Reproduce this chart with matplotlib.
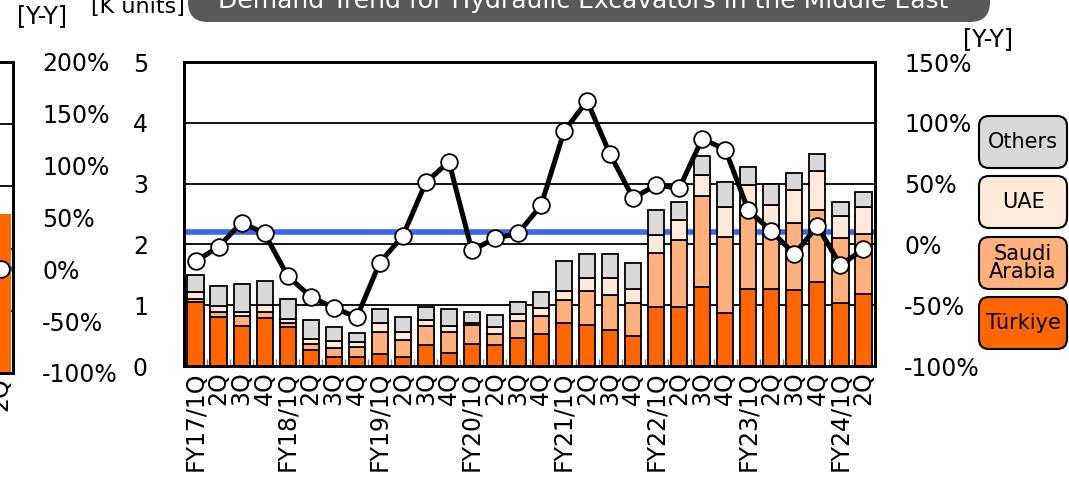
"""
Demand trend for hydraulic excavators in the Middle East (stacked bars + Y-Y line)
"""

import matplotlib
matplotlib.use("Agg")
import matplotlib.pyplot as plt
import matplotlib.ticker as mticker
import matplotlib.transforms as mtransforms
from matplotlib.patches import FancyBboxPatch
import numpy as np

plt.rcParams["font.family"] = "DejaVu Sans"

# ── Data ─────────────────────────────────────────────
QUARTERS = ["FY17/1Q", "2Q", "3Q", "4Q",
            "FY18/1Q", "2Q", "3Q", "4Q",
            "FY19/1Q", "2Q", "3Q", "4Q",
            "FY20/1Q", "2Q", "3Q", "4Q",
            "FY21/1Q", "2Q", "3Q", "4Q",
            "FY22/1Q", "2Q", "3Q", "4Q",
            "FY23/1Q", "2Q", "3Q", "4Q",
            "FY24/1Q", "2Q"]

# K units
TURKIYE = [1.05, 0.81, 0.66, 0.79, 0.64, 0.26, 0.15, 0.15, 0.20, 0.14,
           0.34, 0.21, 0.37, 0.34, 0.46, 0.52, 0.71, 0.67, 0.60, 0.50,
           0.97, 0.97, 1.30, 0.87, 1.26, 1.26, 1.25, 1.38, 1.04, 1.19]
SAUDI = [0.05, 0.08, 0.16, 0.09, 0.07, 0.11, 0.15, 0.16, 0.36, 0.29,
         0.32, 0.35, 0.30, 0.18, 0.28, 0.30, 0.37, 0.56, 0.56, 0.54,
         0.89, 1.11, 1.49, 1.25, 1.22, 0.94, 1.10, 1.19, 1.07, 0.98]
UAE = [0.11, 0.09, 0.07, 0.13, 0.07, 0.08, 0.11, 0.09, 0.14, 0.13,
       0.09, 0.10, 0.04, 0.12, 0.12, 0.14, 0.16, 0.22, 0.29, 0.22,
       0.30, 0.32, 0.35, 0.50, 0.49, 0.45, 0.54, 0.63, 0.35, 0.44]
OTHERS = [0.28, 0.34, 0.46, 0.38, 0.32, 0.30, 0.23, 0.15, 0.23, 0.25,
          0.22, 0.27, 0.18, 0.20, 0.19, 0.26, 0.49, 0.40, 0.39, 0.43,
          0.41, 0.29, 0.32, 0.40, 0.30, 0.35, 0.29, 0.29, 0.24, 0.25]

# Y-Y change (%)
YOY = [-14, -2, 18, 9, -26, -43, -52, -60, -15, 7,
       51, 68, -5, 5, 9, 32, 93, 118, 74, 38,
       49, 46, 87, 78, 28, 11, -8, 15, -17, -4]
REF_LINE = 10   # blue reference line (%)

SERIES = ["Türkiye", "Saudi\nArabia", "UAE", "Others"]
COLORS = ["#FF6600", "#FFB07C", "#FDEADA", "#D9D9D9"]
BLUE = "#3A66F0"

# fragment of the neighbouring chart on the far left
PREV_LABEL = ["2Q"]
PREV_VALUE = [2.56]
PREV_YOY = [0]
PREV_REF = 0

W, H = 1069, 486
fig = plt.figure(figsize=(W / 100, H / 100), dpi=100)
fig.patch.set_facecolor("white")

# ── Main chart ───────────────────────────────────────
ax = fig.add_axes([184 / W, 120 / H, 691 / W, 304 / H])
x = np.arange(len(QUARTERS))

for yv in [1, 2, 3, 4]:
    ax.axhline(yv, color="black", lw=1.3, zorder=0)

ax2 = ax.twinx()
blend = mtransforms.blended_transform_factory(ax.transAxes, ax2.transData)
ax.plot([0.003, 1], [REF_LINE, REF_LINE], color=BLUE, lw=4, transform=blend,
        zorder=1, scalex=False, scaley=False)

bottom = np.zeros(len(QUARTERS))
for vals, col in zip([TURKIYE, SAUDI, UAE, OTHERS], COLORS):
    ax.bar(x, vals, width=0.7, bottom=bottom, color=col, edgecolor="black",
           linewidth=1.3, zorder=2)
    bottom += np.array(vals)

ax.set_xlim(-0.5, len(QUARTERS) - 0.5)
ax.set_ylim(0, 5)
ax.set_yticks([0, 1, 2, 3, 4, 5])
ax.tick_params(axis="y", length=0, pad=26, labelsize=17)
ax.set_xticks(x)
ax.set_xticklabels(QUARTERS, rotation=90, fontsize=17)
ax.tick_params(axis="x", length=0, pad=4)
ax.set_xticks(x[:-1] + 0.5, minor=True)
ax.tick_params(axis="x", which="minor", direction="in", length=5,
               color="#7F7F7F", width=1)
for sp in ax.spines.values():
    sp.set_linewidth(2)

ax2.plot(x, YOY, color="black", lw=3.6, marker="o", markersize=12,
         markerfacecolor="white", markeredgecolor="black",
         markeredgewidth=1.3, zorder=3)
ax2.set_ylim(-100, 150)
ax2.set_yticks(np.arange(-100, 151, 50))
ax2.yaxis.set_major_formatter(mticker.FormatStrFormatter("%d%%"))
ax2.tick_params(axis="y", length=0, pad=21, labelsize=17)
for sp in ax2.spines.values():
    sp.set_linewidth(2)

# ── Neighbouring chart fragment ──────────────────────
axl = fig.add_axes([-34 / W, 113 / H, 47 / W, 311 / H])
for yv in [1, 2, 3, 4]:
    axl.axhline(yv, color="black", lw=1.3, zorder=0)
axl.bar([0], PREV_VALUE, width=0.91, color=COLORS[0], zorder=2)
axl.set_xlim(-1.5, 0.543)
axl.set_ylim(0, 5)
axl.set_yticks([])
axl.set_xticks([0])
axl.set_xticklabels(PREV_LABEL, rotation=90, fontsize=17)
axl.tick_params(axis="x", length=0, pad=3)
axl.spines["left"].set_visible(False)
for sp in axl.spines.values():
    sp.set_linewidth(2)
axl2 = axl.twinx()
axl2.axhline(PREV_REF, color=BLUE, lw=4, zorder=1)
axl2.plot([0], PREV_YOY, marker="o", markersize=12, color="black",
          markerfacecolor="white", markeredgewidth=1.3, zorder=3)
axl2.set_ylim(-100, 200)
axl2.set_yticks(np.arange(-100, 201, 50))
axl2.yaxis.set_major_formatter(mticker.FormatStrFormatter("%d%%"))
axl2.tick_params(axis="y", length=0, pad=21, labelsize=17)
axl2.spines["left"].set_visible(False)
for sp in axl2.spines.values():
    sp.set_linewidth(2)

# ── Title banner and unit labels ─────────────────────
inch = fig.dpi_scale_trans
fig.add_artist(FancyBboxPatch((1.88, 4.64), 8.02, 0.6,
                              boxstyle="round,pad=0,rounding_size=0.2",
                              transform=inch, facecolor="#595959",
                              edgecolor="none"))
fig.text(583 / W, 1 - 8 / H,
         "Demand Trend for Hydraulic Excavators in the Middle East",
         color="white", fontsize=18, ha="center", va="baseline")
fig.text(138 / W, 1 - 7 / H, "[K units]", fontsize=16, ha="center", va="center")
fig.text(42 / W, 1 - 16 / H, "[Y-Y]", fontsize=17, ha="center", va="center")
fig.text(988 / W, 1 - 39 / H, "[Y-Y]", fontsize=17, ha="center", va="center")

# ── Legend boxes ─────────────────────────────────────
box_tops = [349, 289, 228, 168]   # px from top, bottom edge of each box
for name, col, b in zip(SERIES, COLORS, box_tops):
    y0 = (H - b) / 100
    fig.add_artist(FancyBboxPatch((9.79, y0), 0.88, 0.52,
                                  boxstyle="round,pad=0,rounding_size=0.1",
                                  transform=inch, facecolor=col,
                                  edgecolor="black", linewidth=1.5))
    fig.text(10.23, y0 + 0.26, name, transform=inch, fontsize=15,
             ha="center", va="center", linespacing=0.85)

fig.savefig("out.png", dpi=100)
